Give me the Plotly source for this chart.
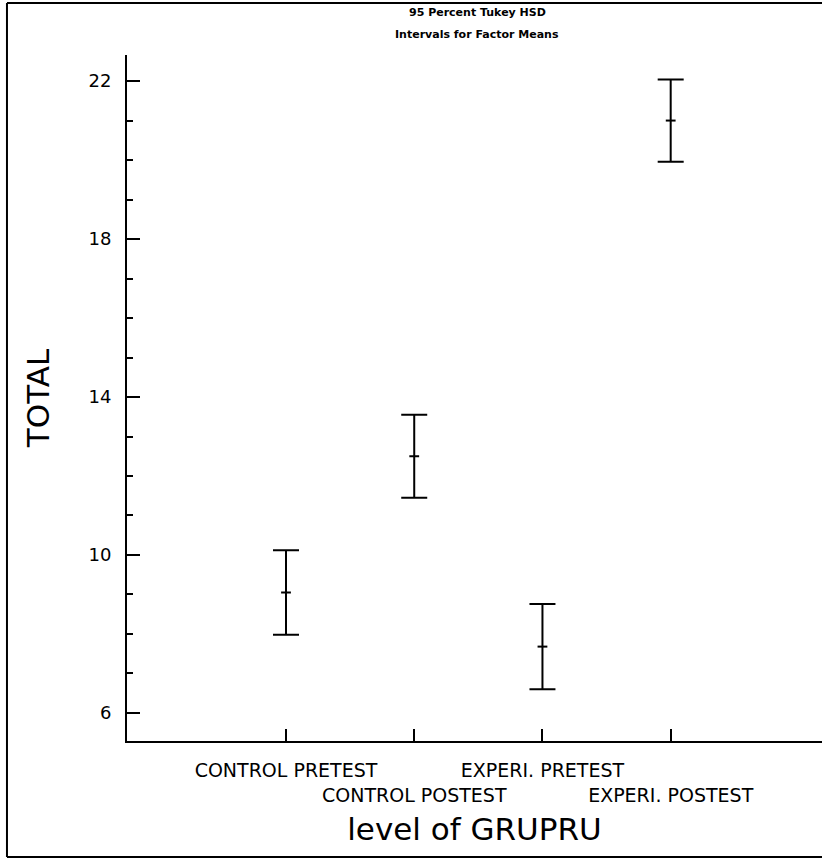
import plotly.graph_objects as go

categories = ["CONTROL PRETEST", "CONTROL POSTEST", "EXPERI. PRETEST", "EXPERI. POSTEST"]
means = [9.05, 12.5, 7.68, 21.0]
half_widths = [1.07, 1.05, 1.08, 1.04]
y_ticks = [6, 10, 14, 18, 22]
title_lines = ["95 Percent Tukey HSD", "Intervals for Factor Means"]

positions = list(range(len(categories)))
tick_text = [c if i % 2 == 0 else "<br>" + c for i, c in enumerate(categories)]

FONT = "DejaVu Sans"
PLOT_H = 858 - 55 - 117

fig = go.Figure()
fig.add_trace(go.Scatter(
    x=positions, y=means, mode="markers",
    marker=dict(symbol="line-ew", size=7, color="black", line=dict(color="black", width=2)),
    error_y=dict(type="data", array=half_widths, visible=True, color="black", thickness=2, width=13),
    showlegend=False, hoverinfo="skip",
))

fig.update_layout(
    width=822, height=858,
    margin=dict(l=127, r=0, t=55, b=117),
    paper_bgcolor="white", plot_bgcolor="white",
    font=dict(family=FONT, color="black"),
    xaxis=dict(
        range=[-1.24, 4.18], tickvals=positions, ticktext=tick_text, tickangle=0,
        automargin=False,
        showgrid=False, zeroline=False, showline=True, linecolor="black", linewidth=2,
        ticks="inside", ticklen=12, tickwidth=2, tickcolor="black",
        tickfont=dict(size=19, family=FONT), ticklabelstandoff=11,
        title=dict(text="level of GRUPRU", font=dict(size=31, family=FONT), standoff=14),
    ),
    yaxis=dict(
        range=[5.29, 22.66], tickvals=y_ticks, automargin=False,
        showgrid=False, zeroline=False, showline=True, linecolor="black", linewidth=2,
        ticks="inside", ticklen=13, tickwidth=2, tickcolor="black",
        minor=dict(dtick=1, ticks="inside", ticklen=6, tickwidth=2, tickcolor="black", showgrid=False),
        tickfont=dict(size=18, family=FONT), ticklabelstandoff=10,
        title=dict(text="TOTAL", font=dict(size=31, family=FONT), standoff=30),
    ),
)

# title lines as annotations
for i, line in enumerate(title_lines):
    fig.add_annotation(
        text="<b>" + line + "</b>", xref="paper", yref="paper",
        x=(477 - 127) / 695, y=(741 - (12 + 22 * i)) / PLOT_H,
        xanchor="center", yanchor="middle", showarrow=False,
        font=dict(size=11, family=FONT, color="black"),
    )

# page frame (left, top, bottom edges)
for x0, y0, x1, y1 in [(-0.1727, -0.169, -0.1727, 1.0758), (-0.1727, 1.0758, 1.0, 1.0758), (-0.1727, -0.169, 1.0, -0.169)]:
    fig.add_shape(type="line", xref="paper", yref="paper", x0=x0, y0=y0, x1=x1, y1=y1,
                  line=dict(color="black", width=2))

fig.write_html("out.html")
